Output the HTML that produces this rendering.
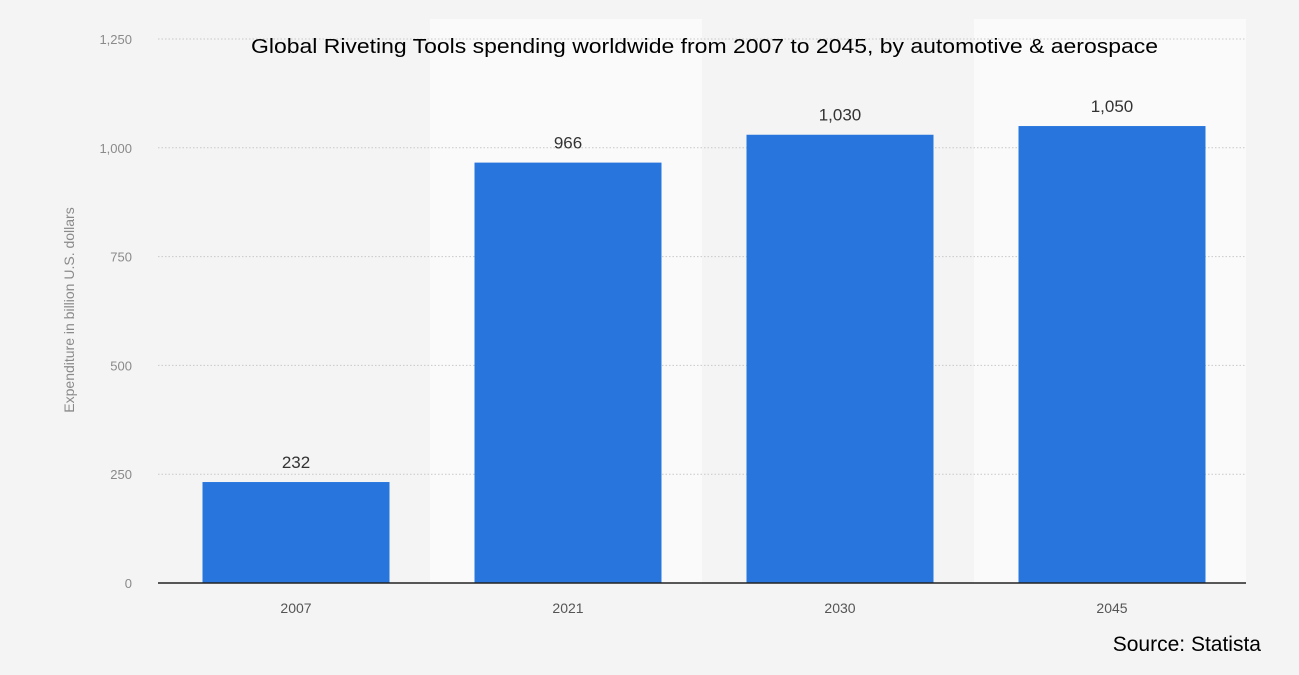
<!DOCTYPE html>
<html><head><meta charset="utf-8">
<style>
html,body{margin:0;padding:0;background:#f4f4f4;}
svg{display:block;font-family:"Liberation Sans",sans-serif;}
</style></head>
<body>
<svg id="chart" width="1299" height="675" viewBox="0 0 1299 675" xmlns="http://www.w3.org/2000/svg">
<rect x="0" y="0" width="1299" height="675" fill="#f4f4f4"/>
<g id="bands"></g>
<g id="grid"></g>
<g id="bars"></g>
<g id="labels"></g>
<text x="251" y="53" font-size="20" fill="#000" textLength="907" lengthAdjust="spacingAndGlyphs">Global Riveting Tools spending worldwide from 2007 to 2045, by automotive &amp; aerospace</text>
<text transform="translate(74,310) rotate(-90)" text-anchor="middle" font-size="14" fill="#8a8a8a">Expenditure in billion U.S. dollars</text>
<text x="1261" y="651" text-anchor="end" font-size="21" fill="#000">Source: Statista</text>
</svg>
<script>
const categories = ["2007","2021","2030","2045"];
const values = [232,966,1030,1050];
const valueLabels = ["232","966","1,030","1,050"];
const yTicks = [0,250,500,750,1000,1250];
const yTickLabels = ["0","250","500","750","1,000","1,250"];

const NS="http://www.w3.org/2000/svg";
const x0=158,x1=1246,yBase=583,yTop=39,yMax=1250;
const bandW=(x1-x0)/categories.length;
const barW=187;
function y(v){return yBase-(v/yMax)*(yBase-yTop);}
function xc(i){return x0+bandW*(i+0.5)+2;}
function mk(tag,attrs,parent){const e=document.createElementNS(NS,tag);for(const k in attrs)e.setAttribute(k,attrs[k]);document.getElementById(parent).appendChild(e);return e;}

categories.forEach((c,i)=>{
  const b=mk('rect',{x:x0+bandW*i,y:yTop-20,width:bandW,height:yBase-yTop+20,fill:i%2?'#fafafa':'#f4f4f4'},'bands');
  
  
});
yTicks.forEach((t,i)=>{
  if(t>0){
    const l=mk('line',{x1:x0,x2:x1,y1:y(t),y2:y(t),stroke:'#c8c8c8','stroke-dasharray':'1.5,2','stroke-width':1},'grid');
    
    
  }
  const tx=mk('text',{x:132,y:y(t)+5,'text-anchor':'end','font-size':13,fill:'#8a8a8a'},'labels');
  tx.textContent=yTickLabels[i];
  
  
});
values.forEach((v,i)=>{
  const r=mk('rect',{x:xc(i)-barW/2,y:y(v),width:barW,height:yBase-y(v),fill:'#2876dd'},'bars');
  
  
  const t=mk('text',{x:xc(i),y:y(v)-14,'text-anchor':'middle','font-size':17,fill:'#333'},'labels');
  t.textContent=valueLabels[i];
  
  
  const c=mk('text',{x:xc(i),y:613,'text-anchor':'middle','font-size':14,fill:'#555'},'labels');
  c.textContent=categories[i];
  
  
});
const ax=mk('line',{x1:x0,x2:x1,y1:yBase,y2:yBase,stroke:'#222','stroke-width':1.5},'labels');


</script>
</body></html>
